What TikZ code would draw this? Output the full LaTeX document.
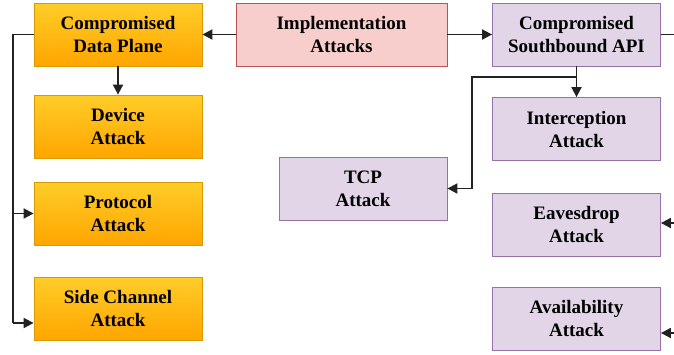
\documentclass[tikz,border=0pt]{standalone}
\usepackage{fontspec}
\setmainfont{Liberation Serif}
\usetikzlibrary{arrows.meta}
\definecolor{orgtop}{HTML}{FFCD28}
\definecolor{orgbot}{HTML}{FFA500}
\definecolor{orgline}{HTML}{D79B00}
\definecolor{redfill}{HTML}{F8CECC}
\definecolor{redline}{HTML}{B85450}
\definecolor{purfill}{HTML}{E1D5E7}
\definecolor{purline}{HTML}{9673A6}
\definecolor{conn}{HTML}{222222}
\tikzset{
  box/.style={minimum width=168pt, minimum height=63pt, inner sep=0pt, align=center,
    font=\fontsize{19}{23}\selectfont\bfseries, line width=0.8pt},
  orangebox/.style={box, draw=orgline, top color=orgtop, bottom color=orgbot},
  redbox/.style={box, draw=redline, fill=redfill, minimum width=211pt},
  purbox/.style={box, draw=purline, fill=purfill},
  link/.style={draw=conn, line width=1.8pt},
  arr/.style={link, -{Triangle[length=10pt,width=10pt]}}
}
\begin{document}
\begin{tikzpicture}[x=1pt, y=-1pt]
\useasboundingbox (0,0) rectangle (674,354);
\clip (0,0) rectangle (674,354);
\node[orangebox] (dp) at (118,34.5) {Compromised\\Data Plane};
\node[orangebox] (dev) at (118,126.5) {Device\\Attack};
\node[orangebox] (prot) at (118,213.5) {Protocol\\Attack};
\node[orangebox] (side) at (118,308.5) {Side Channel\\Attack};
\node[redbox] (impl) at (341.5,34.5) {Implementation\\Attacks};
\node[purbox] (sb) at (576.5,34.5) {Compromised\\Southbound API};
\node[purbox] (inter) at (576.5,129) {Interception\\Attack};
\node[purbox] (tcp) at (363,188.5) {TCP\\Attack};
\node[purbox] (eav) at (576.5,224.5) {Eavesdrop\\Attack};
\node[purbox] (avail) at (576.5,318.5) {Availability\\Attack};

\coordinate (lx) at (13,0);
\coordinate (rx) at (690,0);
\coordinate (br) at (576.5,77);

\draw[arr] (impl.west) -- (dp.east);
\draw[arr] (impl.east) -- (sb.west);
\draw[arr] (dp.south) -- (dev.north);
\draw[link] (dp.west) -- (dp.west -| lx) -- (lx |- 0,323);
\draw[arr] (lx |- prot.west) -- (prot.west);
\draw[arr] (lx |- 0,323) -- (side.west |- 0,323);
\draw[arr] (sb.south) -- (inter.north);
\draw[arr] (br) -- (472,77) -- (472,188.5) -- (tcp.east);
\draw[link] (sb.east) -- (sb.east -| rx);
\draw[arr] (rx |- 0,223) -- (eav.east |- 0,223);
\draw[arr] (rx |- 0,333) -- (avail.east |- 0,333);
\end{tikzpicture}
\end{document}
